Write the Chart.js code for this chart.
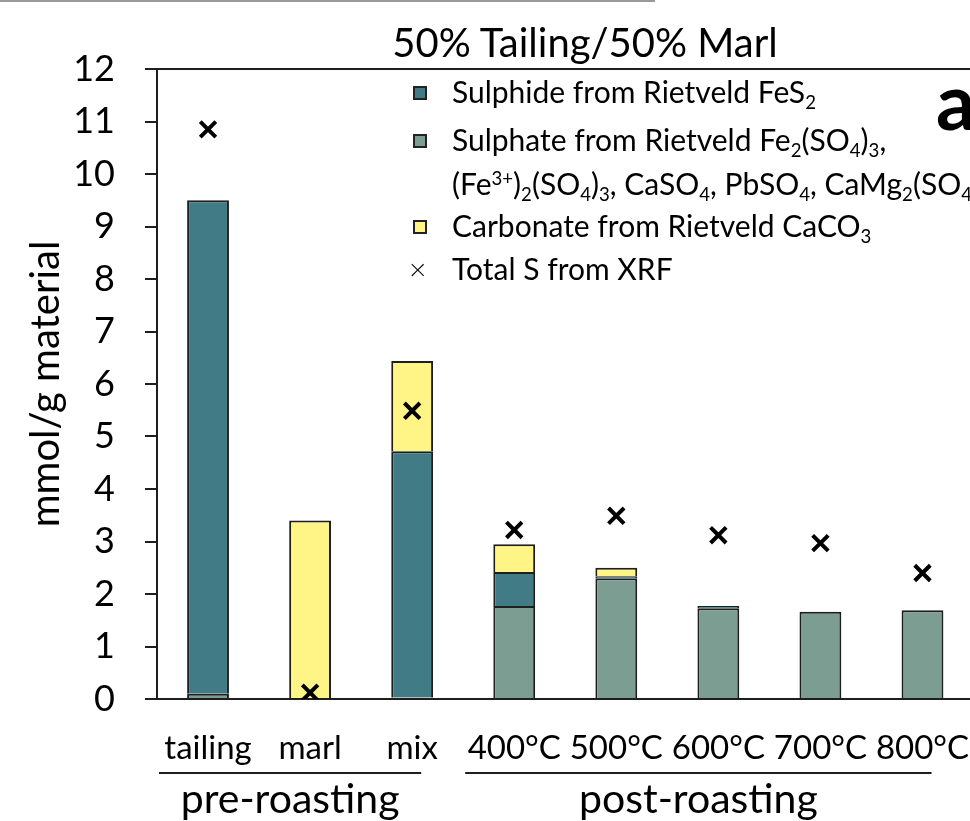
<!DOCTYPE html>
<html>
<head>
<meta charset="utf-8">
<script src="https://cdn.jsdelivr.net/npm/chart.js@4.4.1/dist/chart.umd.min.js"></script>
<style>
  body { margin: 0; background: #fff; overflow: hidden; font-family: Lato, sans-serif; color: #000; }
  #wrap { position: relative; width: 970px; height: 821px; overflow: hidden; }
  #box { position: absolute; left: 0; top: 0; width: 1000px; height: 821px; }
  #topline { position: absolute; left: 0; top: 0; width: 655px; height: 2px; background: #999; }
  .txt { position: absolute; white-space: nowrap; }
  #title { left: 285px; width: 600px; top: 20px; line-height: 44px; font-size: 40px; text-align: center; }
  #tag { left: 936px; top: 61px; font-size: 78px; font-weight: bold; line-height: 1; }
  .leg { position: absolute; left: 452px; font-size: 30px; line-height: 34px; white-space: nowrap; }
  .sq { position: absolute; left: 413px; width: 10px; height: 10px; border: 2px solid #222; }
  .x { position: absolute; left: 409px; font-size: 30px; font-weight: 300; line-height: 34px; }
  sub, sup { font-size: 0.62em; line-height: 0; }
  sub { vertical-align: -0.3em; }
  sup { vertical-align: 0.55em; }
</style>
</head>
<body>
<div id="wrap">
  <div id="box"><canvas id="chart"></canvas></div>
  <div id="topline"></div>
  <div id="title" class="txt">50% Tailing/50% Marl</div>
  <div id="tag" class="txt">a</div>

  <div class="sq" style="top:86px;background:#417b85"></div>
  <div class="leg" style="top:74px">Sulphide from Rietveld FeS<sub>2</sub></div>
  <div class="sq" style="top:134px;background:#7c9e92"></div>
  <div class="leg" style="top:122px">Sulphate from Rietveld Fe<sub>2</sub>(SO<sub>4</sub>)<sub>3</sub>,</div>
  <div class="leg" style="top:166px">(Fe<sup>3+</sup>)<sub>2</sub>(SO<sub>4</sub>)<sub>3</sub>, CaSO<sub>4</sub>, PbSO<sub>4</sub>, CaMg<sub>2</sub>(SO<sub>4</sub>)<sub>3</sub></div>
  <div class="sq" style="top:220px;background:#fff486"></div>
  <div class="leg" style="top:208px">Carbonate from Rietveld CaCO<sub>3</sub></div>
  <div class="x" style="top:251px">×</div>
  <div class="leg" style="top:251px">Total S from XRF</div>
</div>
<script>
  // categories and values (mmol/g material)
  var categories = ['tailing', 'marl', 'mix', '400°C', '500°C', '600°C', '700°C', '800°C'];
  var sulphate  = [0.10, 0,    0.03, 1.77, 2.30, 1.73, 1.66, 1.69];
  var sulphide  = [9.40, 0,    4.69, 0.65, 0.04, 0.04, 0,    0];
  var carbonate = [0,    3.40, 1.72, 0.53, 0.16, 0,    0,    0];
  var totalS    = [10.85, 0.12, 5.49, 3.22, 3.49, 3.12, 2.97, 2.40];

  var groups = [
    { label: 'pre-roasting', first: 0, last: 2 },
    { label: 'post-roasting', first: 3, last: 7 }
  ];

  var edge = '#1e1e1e';

  var groupLabels = {
    id: 'groupLabels',
    afterDraw: function(chart) {
      var ctx = chart.ctx;
      var xs = chart.scales.x;
      var half = (xs.getPixelForValue(1) - xs.getPixelForValue(0)) / 2;
      ctx.save();
      ctx.strokeStyle = edge;
      ctx.lineWidth = 2;
      ctx.fillStyle = '#000';
      ctx.font = '41px Lato';
      ctx.textAlign = 'center';
      ctx.textBaseline = 'middle';
      groups.forEach(function(g) {
        var x0 = xs.getPixelForValue(g.first) - half + 2;
        var x1 = xs.getPixelForValue(g.last) + half - 42;
        ctx.beginPath();
        ctx.moveTo(x0, 773);
        ctx.lineTo(x1, 773);
        ctx.stroke();
        ctx.fillText(g.label, (x0 + x1) / 2, 800);
      });
      ctx.restore();
    }
  };

  var ctxC = document.getElementById('chart').getContext('2d');
  var myChart = new Chart(ctxC, {
    type: 'bar',
    data: {
      labels: categories,
      datasets: [
        {
          type: 'line',
          label: 'Total S from XRF',
          data: totalS,
          stack: 'xrf',
          order: 0,
          showLine: false,
          pointStyle: 'crossRot',
          pointRadius: 11,
          pointBorderWidth: 4,
          borderColor: '#000',
          backgroundColor: '#000'
        },
        { label: 'Sulphate', data: sulphate, stack: 's', order: 1, backgroundColor: '#7c9e92', borderColor: edge, borderWidth: 2 },
        { label: 'Sulphide', data: sulphide, stack: 's', order: 1, backgroundColor: '#417b85', borderColor: edge, borderWidth: 2 },
        { label: 'Carbonate', data: carbonate, stack: 's', order: 1, backgroundColor: '#fff486', borderColor: edge, borderWidth: 2 }
      ]
    },
    options: {
      responsive: true,
      maintainAspectRatio: false,
      animation: false,
      layout: { padding: { left: 0, top: 69, right: 11, bottom: 0 } },
      datasets: { bar: { categoryPercentage: 1, barPercentage: 0.41 } },
      plugins: { legend: { display: false }, tooltip: { enabled: false } },
      scales: {
        x: {
          stacked: true,
          grid: { display: false, drawTicks: false },
          border: { display: true, color: edge, width: 2 },
          ticks: { color: '#000', font: { family: 'Lato', size: 33 }, padding: 30, maxRotation: 0, autoSkip: false },
          afterFit: function(scale) { scale.height = 122; }
        },
        y: {
          stacked: true,
          min: 0,
          max: 12,
          ticks: { stepSize: 1, color: '#000', font: { family: 'Lato', size: 36 }, padding: 30 },
          grid: {
            lineWidth: 2,
            tickLength: 12,
            tickColor: edge,
            color: function(c) { return c.tick && c.tick.value === 12 ? edge : 'rgba(0,0,0,0)'; }
          },
          border: { display: true, color: edge, width: 2 },
          title: { display: true, text: 'mmol/g material', color: '#000', font: { family: 'Lato', size: 40 }, padding: { top: 22, bottom: 0 } },
          afterFit: function(scale) { scale.width = 157; }
        }
      }
    },
    plugins: [groupLabels]
  });
</script>
</body>
</html>
